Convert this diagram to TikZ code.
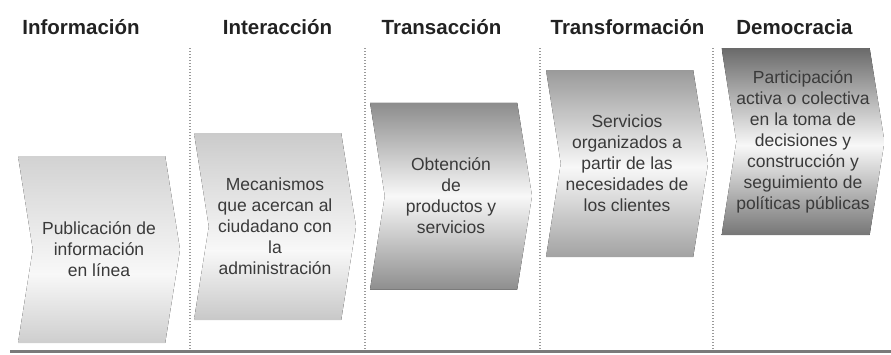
\documentclass[tikz,border=0pt]{standalone}
\usepackage{fontspec}
\setmainfont{Liberation Sans}
\usepackage{tikz}
\usetikzlibrary{positioning,shapes.symbols,calc}

\definecolor{txtgray}{HTML}{3A3A3A}
\definecolor{headgray}{HTML}{222222}
\definecolor{sepgray}{HTML}{9A9A9A}
\definecolor{basegray}{HTML}{7A7A7A}
\definecolor{glow}{HTML}{F8F8F8}
\definecolor{infotop}{HTML}{D2D2D2}
\definecolor{infobot}{HTML}{CECECE}
\definecolor{intertop}{HTML}{CBCBCB}
\definecolor{interbot}{HTML}{C8C8C8}
\definecolor{transtop}{HTML}{8C8C8C}
\definecolor{transbot}{HTML}{8E8E8E}
\definecolor{formtop}{HTML}{9A9A9A}
\definecolor{formbot}{HTML}{A2A2A2}
\definecolor{demotop}{HTML}{6A6A6A}
\definecolor{demobot}{HTML}{767676}

\begin{document}
\begin{tikzpicture}[x=1pt, y=-1pt, node distance=176pt, on grid,
	chevron/.style={signal, signal from=west, signal to=east, signal pointer angle=162,
		minimum width=162pt, minimum height=187pt, inner sep=0pt, align=center,
		text=txtgray, font=\fontsize{17.5}{21}\selectfont},
	% top colour, bottom colour, height of the light band (0 = top, 1 = bottom)
	glare/.style n args={3}{path picture={
		\coordinate (gm) at ($(path picture bounding box.north west)!#3!(path picture bounding box.south west)$);
		\fill[top color=#1, bottom color=glow] (path picture bounding box.north west) rectangle (gm -| path picture bounding box.east);
		\fill[top color=glow, bottom color=#2] (gm) rectangle (path picture bounding box.south east);
	}},
	header/.style={anchor=base, text=headgray, font=\bfseries\fontsize{20.5}{24}\selectfont},
	sep/.style={draw=sepgray, line width=1.3pt, dash pattern=on 1.3pt off 1.7pt},
	baseline/.style={draw=basegray, line width=3pt}]
	\useasboundingbox (0,0) rectangle (891,354);

	% column titles
	\node[header] (hinfo)  at (81,34)    {Información};
	\node[header] (hinter) at (277.5,34) {Interacción};
	\node[header] (htrans) at (441.5,34) {Transacción};
	\node[header] (hform)  at (627.5,34) {Transformación};
	\node[header] (hdemo)  at (794.5,34) {Democracia};

	% separators
	\foreach \sx in {190,365,540,713}
		\draw[sep] (\sx,48) -- (\sx,350);
	\draw[baseline] (10,351) -- (891,351);

	% stages
	\node[chevron, glare={infotop}{infobot}{0.63}]   (info)  at (99,249.5)                    {Publicación de\\información\\en línea};
	\node[chevron, glare={intertop}{interbot}{0.63}] (inter) [right =of info, yshift=23pt]    {Mecanismos\\que acercan al\\ciudadano con\\la\\administración};
	\node[chevron, glare={transtop}{transbot}{0.5}]  (trans) [right =of inter, yshift=30.5pt] {Obtención\\de\\productos y\\servicios};
	\node[chevron, glare={formtop}{formbot}{0.52}]   (form)  [right =of trans, yshift=32.5pt] {Servicios\\organizados a\\partir de las\\necesidades de\\los clientes};
	\node[chevron, glare={demotop}{demobot}{0.52}]   (demo)  [right =of form, yshift=22pt]    {Participación\\activa o colectiva\\en la toma de\\decisiones y\\construcción y\\seguimiento de\\políticas públicas};
\end{tikzpicture}
\end{document}
